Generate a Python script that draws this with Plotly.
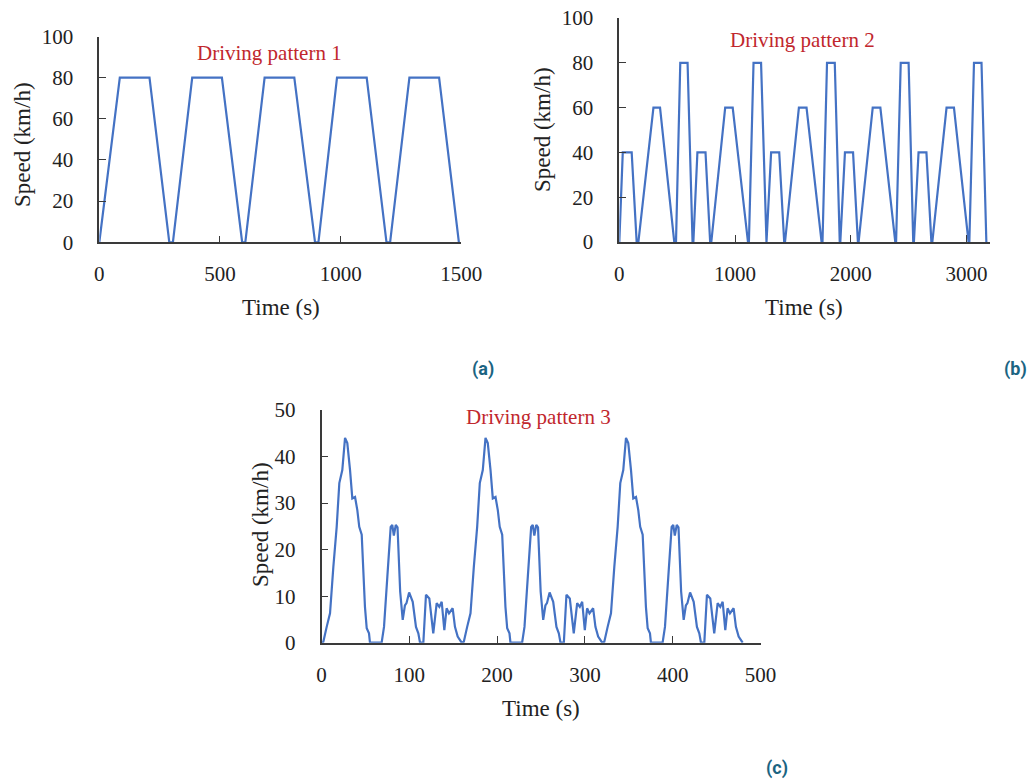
import plotly.graph_objects as go

W, H = 1032, 781

# ---------------- data ----------------
time_a = [0, 85, 208, 290, 305, 385, 508, 592, 605, 685, 808, 894, 908, 985, 1108, 1190, 1205, 1285, 1408, 1490]
speed_a = [0, 80, 80, 0, 0, 80, 80, 0, 0, 80, 80, 0, 0, 80, 80, 0, 0, 80, 80, 0]

time_b = [0, 30, 107, 150, 165, 295, 352, 475, 490, 527, 590, 633,
          640, 675, 745, 785, 795, 915, 980, 1112, 1120, 1160, 1225, 1266,
          1272, 1312, 1382, 1425, 1432, 1552, 1618, 1748, 1756, 1795, 1862, 1905,
          1910, 1950, 2020, 2062, 2068, 2190, 2256, 2385, 2392, 2432, 2500, 2540,
          2546, 2586, 2654, 2697, 2705, 2828, 2892, 3018, 3025, 3065, 3130, 3172]
speed_b = [0, 40, 40, 0, 0, 60, 60, 0, 0, 80, 80, 0,
           0, 40, 40, 0, 0, 60, 60, 0, 0, 80, 80, 0,
           0, 40, 40, 0, 0, 60, 60, 0, 0, 80, 80, 0,
           0, 40, 40, 0, 0, 60, 60, 0, 0, 80, 80, 0,
           0, 40, 40, 0, 0, 60, 60, 0, 0, 80, 80, 0]

time_c = [0, 2.1, 5.9, 9.7, 13.5, 17.3, 20.3, 23.7, 26.8, 29.4, 32.5, 35.1, 38.2, 40.8, 43.0, 45.8, 49.5, 51.5, 54.1, 55.2,
          68.5, 71.2, 75.0, 78.8, 80.6, 82.4, 84.6, 86.6, 89.6, 92.5, 95.0, 96.8, 99.8, 103.9, 107.6, 110.3, 112.2,
          116.0, 119.0, 122.8, 127.3, 131.2, 134.2, 136.9, 139.9, 142.5, 145.2, 149.4, 152.0, 155.1, 159.7,
          162.1, 165.9, 169.7, 173.5, 177.3, 180.3, 183.7, 186.8, 189.4, 192.5, 195.1, 198.2, 200.8, 203.0, 205.8, 209.5, 211.5, 214.1, 215.2,
          228.5, 231.2, 235.0, 238.8, 240.6, 242.4, 244.6, 246.6, 249.6, 252.5, 255.0, 256.8, 259.8, 263.9, 267.6, 270.3, 272.2,
          276.0, 279.0, 282.8, 287.3, 291.2, 294.2, 296.9, 299.9, 302.5, 305.2, 309.4, 312.0, 315.1, 319.7,
          322.1, 325.9, 329.7, 333.5, 337.3, 340.3, 343.7, 346.8, 349.4, 352.5, 355.1, 358.2, 360.8, 363.0, 365.8, 369.5, 371.5, 374.1, 375.2,
          388.5, 391.2, 395.0, 398.8, 400.6, 402.4, 404.6, 406.6, 409.6, 412.5, 415.0, 416.8, 419.8, 423.9, 427.6, 430.3, 432.2,
          436.0, 439.0, 442.8, 447.3, 451.2, 454.2, 456.9, 459.9, 462.5, 465.2, 469.4, 472.0, 475.1, 479.7]
speed_c = [0, 0.2, 3.4, 6.3, 16.3, 24.9, 34.3, 37.1, 44.0, 42.9, 37.1, 31.0, 31.3, 28.5, 24.9, 23.2, 7.7, 3.1, 2.0, 0,
           0, 3.4, 14.2, 24.9, 25.3, 23.0, 25.3, 24.8, 11.0, 4.9, 8.0, 8.5, 10.8, 8.8, 3.4, 2.0, 0,
           0, 10.3, 9.5, 2.0, 8.5, 7.7, 8.8, 2.7, 7.4, 6.3, 7.4, 3.4, 1.3, 0,
           0.2, 3.4, 6.3, 16.3, 24.9, 34.3, 37.1, 44.0, 42.9, 37.1, 31.0, 31.3, 28.5, 24.9, 23.2, 7.7, 3.1, 2.0, 0,
           0, 3.4, 14.2, 24.9, 25.3, 23.0, 25.3, 24.8, 11.0, 4.9, 8.0, 8.5, 10.8, 8.8, 3.4, 2.0, 0,
           0, 10.3, 9.5, 2.0, 8.5, 7.7, 8.8, 2.7, 7.4, 6.3, 7.4, 3.4, 1.3, 0,
           0.2, 3.4, 6.3, 16.3, 24.9, 34.3, 37.1, 44.0, 42.9, 37.1, 31.0, 31.3, 28.5, 24.9, 23.2, 7.7, 3.1, 2.0, 0,
           0, 3.4, 14.2, 24.9, 25.3, 23.0, 25.3, 24.8, 11.0, 4.9, 8.0, 8.5, 10.8, 8.8, 3.4, 2.0, 0,
           0, 10.3, 9.5, 2.0, 8.5, 7.7, 8.8, 2.7, 7.4, 6.3, 7.4, 3.4, 1.3, 0]

titles = ["Driving pattern 1", "Driving pattern 2", "Driving pattern 3"]
panel_labels = ["(a)", "(b)", "(c)"]
x_title = "Time (s)"
y_title = "Speed (km/h)"

# ---------------- styling ----------------
LINE = "#4472C4"
AXC = "#3a3a3a"
SERIF = "Liberation Serif, Times New Roman, serif"
RED = "#C1272D"
TEAL = "#1B6482"
TICKF = 21
AXTF = 23
TITF = 21

def px(x):
    return x / W

def py(y):
    return 1 - y / H

fig = go.Figure()
fig.add_trace(go.Scatter(x=time_a, y=speed_a, mode="lines", line=dict(color=LINE, width=2.2), xaxis="x", yaxis="y"))
fig.add_trace(go.Scatter(x=time_b, y=speed_b, mode="lines", line=dict(color=LINE, width=2.2), xaxis="x2", yaxis="y2"))
fig.add_trace(go.Scatter(x=time_c, y=speed_c, mode="lines", line=dict(color=LINE, width=2.2), xaxis="x3", yaxis="y3"))

def xax(domain, rng, dtick, anchor):
    return dict(domain=domain, range=rng, dtick=dtick, tick0=0, anchor=anchor,
                showgrid=False, zeroline=False, showline=True, linecolor=AXC, linewidth=1.5,
                ticks="inside", ticklen=7, tickwidth=1.3, tickcolor=AXC,
                tickfont=dict(family=SERIF, size=TICKF, color="#222"),
                ticklabelstandoff=12, fixedrange=True, automargin=False)

def yax(domain, rng, dtick, anchor):
    return dict(domain=domain, range=rng, dtick=dtick, tick0=0, anchor=anchor,
                showgrid=False, zeroline=False, showline=True, linecolor=AXC, linewidth=1.5,
                ticks="inside", ticklen=7, tickwidth=1.3, tickcolor=AXC,
                tickfont=dict(family=SERIF, size=TICKF, color="#222"),
                ticklabelstandoff=20, fixedrange=True, automargin=False)

layout = dict(
    width=W, height=H, margin=dict(l=0, r=0, t=0, b=0, pad=0, autoexpand=False),
    paper_bgcolor="white", plot_bgcolor="white", showlegend=False,
    xaxis=xax([px(99.3), px(461.3)], [0, 1500], 500, "y"),
    yaxis=yax([py(242.3), py(36.5)], [0, 100], 20, "x"),
    xaxis2=xax([px(619.3), px(989.6)], [0, 3200], 1000, "y2"),
    yaxis2=yax([py(242.0), py(18.0)], [0, 100], 20, "x2"),
    xaxis3=xax([px(321.5), px(760.5)], [0, 500], 100, "y3"),
    yaxis3=yax([py(642.7), py(410.0)], [0, 50], 10, "x3"),
)
fig.update_layout(**layout)

ann = []
def text(x, y, s, size, color, family=SERIF, angle=0, bold=False):
    ann.append(dict(x=px(x), y=py(y), xref="paper", yref="paper", text=("<b>%s</b>" % s) if bold else s,
                    showarrow=False, textangle=angle, xanchor="center", yanchor="middle",
                    font=dict(family=family, size=size, color=color)))

# chart titles
text(269, 53, titles[0], TITF, RED)
text(802, 40, titles[1], TITF, RED)
text(538, 417, titles[2], TITF, RED)
# axis titles
text(281, 307, x_title, AXTF, "#222")
text(22, 145, y_title, AXTF, "#222", angle=-90)
text(804, 308, x_title, AXTF, "#222")
text(543, 130, y_title, AXTF, "#222", angle=-90)
text(541, 708, x_title, AXTF, "#222")
text(260, 525, y_title, AXTF, "#222", angle=-90)
# panel labels
text(483, 369, panel_labels[0], 18, TEAL, family="Roboto, sans-serif", bold=True)
text(1015, 369, panel_labels[1], 18, TEAL, family="Roboto, sans-serif", bold=True)
text(777, 768, panel_labels[2], 18, TEAL, family="Roboto, sans-serif", bold=True)

fig.update_layout(annotations=ann)
fig.write_html(
    "out.html",
    config={"displayModeBar": False},
    post_script="document.documentElement.style.margin='0';document.body.style.margin='0';document.body.style.overflow='hidden';",
)
